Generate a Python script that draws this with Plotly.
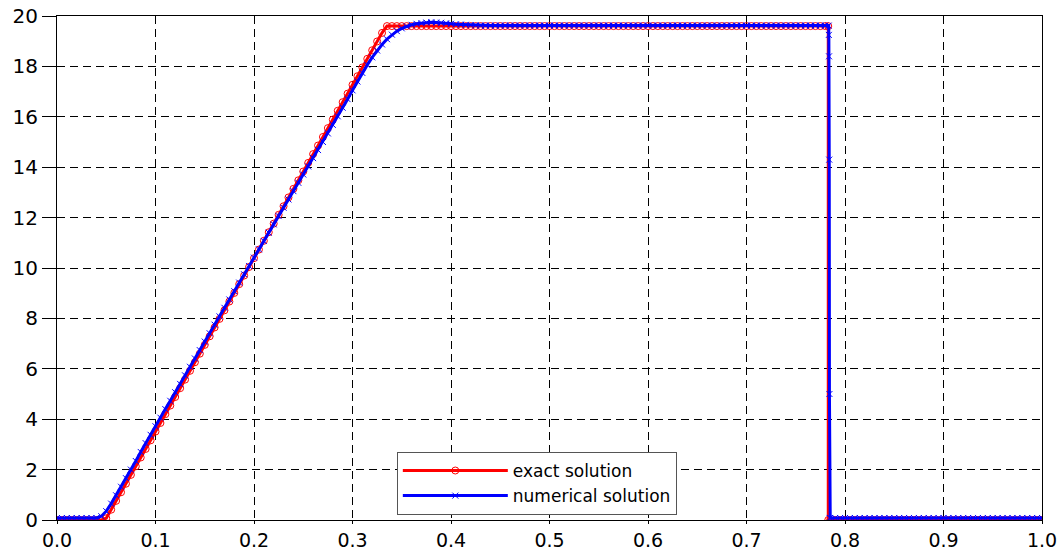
import plotly.graph_objects as go

# ---- data -------------------------------------------------------------
# common grid 0.000 .. 0.780 (step 0.005) -> 157 points; 0.785 .. 1.000 -> 44 points
grid_left = [round(0.005 * i, 3) for i in range(157)]
grid_right = [round(0.005 * i, 3) for i in range(157, 201)]

exact_left = (
    [0.0] * 10
    + [0.07, 0.41, 0.76, 1.10, 1.44, 1.79, 2.13, 2.48, 2.82, 3.16,
       3.51, 3.85, 4.20, 4.54, 4.88, 5.23, 5.57, 5.92, 6.26, 6.60,
       6.95, 7.29, 7.64, 7.98, 8.32, 8.67, 9.01, 9.36, 9.70, 10.04,
       10.39, 10.73, 11.08, 11.42, 11.76, 12.11, 12.45, 12.80, 13.14, 13.48,
       13.83, 14.17, 14.52, 14.86, 15.20, 15.55, 15.89, 16.24, 16.58, 16.92,
       17.27, 17.61, 17.96, 18.30, 18.64, 18.99, 19.33]
    + [19.6] * 90
)
exact_shock_x = [0.783, 0.783]
exact_shock_y = [19.6, 0.0]
exact_right = [0.0] * 44

num_left = (
    [0.08] * 9
    + [0.15, 0.35, 0.65, 0.98, 1.32, 1.66, 2.00, 2.34, 2.70, 3.05,
       3.38, 3.72, 4.06, 4.40, 4.73, 5.07, 5.40, 5.74, 6.08, 6.41,
       6.74, 7.08, 7.41, 7.75, 8.08, 8.42, 8.75, 9.08, 9.42, 9.75,
       10.08, 10.41, 10.74, 11.07, 11.40, 11.73, 12.06, 12.39, 12.72, 13.05,
       13.38, 13.71, 14.03, 14.36, 14.68, 15.00, 15.34, 15.68, 16.02, 16.36,
       16.70, 17.05, 17.40, 17.74, 18.06, 18.36, 18.63, 18.87, 19.08, 19.26,
       19.40, 19.51, 19.59, 19.65, 19.69, 19.72, 19.74, 19.75, 19.74, 19.73,
       19.71, 19.69, 19.67, 19.66, 19.65, 19.64, 19.63]
    + [19.62] * 71
)
num_shock_x = [0.7834, 0.7836, 0.7838, 0.7840, 0.7842, 0.7845]
num_shock_y = [19.62, 19.25, 18.4, 14.3, 5.0, 0.08]
num_right = [0.08] * 44

x_ticks = [round(0.1 * i, 1) for i in range(11)]
y_ticks = list(range(0, 21, 2))

# ---- figure -----------------------------------------------------------
exact_x = grid_left + exact_shock_x + grid_right
exact_y = exact_left + exact_shock_y + exact_right
num_x = grid_left + num_shock_x + grid_right
num_y = num_left + num_shock_y + num_right

fig = go.Figure()
fig.add_trace(go.Scatter(
    x=exact_x, y=exact_y, mode="lines+markers", name="exact solution",
    line=dict(color="#ff0000", width=3),
    marker=dict(symbol="circle-open", size=7, color="#ff0000", line=dict(width=1)),
))
fig.add_trace(go.Scatter(
    x=num_x, y=num_y, mode="lines+markers", name="numerical solution",
    line=dict(color="#0000ff", width=3),
    marker=dict(symbol="x-thin-open", size=6, color="#0000ff", line=dict(width=1, color="#0000ff")),
))

axis_common = dict(
    showline=True, linecolor="black", linewidth=1, mirror=True,
    ticks="outside", tickcolor="black",
    showgrid=True, gridcolor="black", gridwidth=1, griddash="8px,5px",
    zeroline=False, automargin=False,
)

fig.update_xaxes(range=[0, 1], tickvals=x_ticks, tickformat=".1f", ticklen=3,
                 tickfont=dict(family="DejaVu Sans", size=19, color="black"), **axis_common)
fig.update_yaxes(range=[0, 20], tickvals=y_ticks, ticklen=14,
                 tickfont=dict(family="DejaVu Sans", size=20, color="black"), **axis_common)

fig.update_layout(
    width=1059, height=551,
    margin=dict(l=57, r=17, t=16, b=31),
    paper_bgcolor="white", plot_bgcolor="white",
    showlegend=True,
    legend=dict(
        x=0.345, y=0.01, xanchor="left", yanchor="bottom",
        bgcolor="white", bordercolor="#555555", borderwidth=1,
        font=dict(family="DejaVu Sans", size=17, color="black"),
        tracegroupgap=0, itemwidth=105,
    ),
)

fig.write_html("out.html")
